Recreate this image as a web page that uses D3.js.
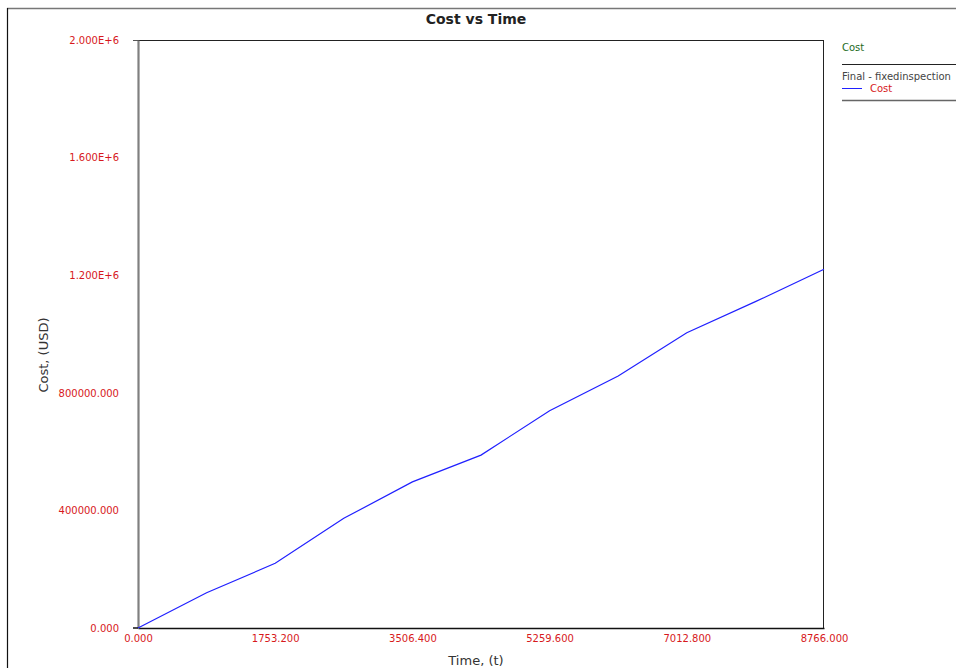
<!DOCTYPE html>
<html><head><meta charset="utf-8">
<script src="https://cdn.jsdelivr.net/npm/d3@7"></script>
<style>body{margin:0;background:#fff}svg{display:block}</style>
</head><body>
<script>
const timeValues = [0, 876.6, 1753.2, 2629.8, 3506.4, 4383, 5259.6, 6136.2, 7012.8, 7889.4, 8766];
const costValues = [0, 120000, 220000, 373000, 497000, 588000, 739000, 857000, 1004000, 1110000, 1220000];
const xTicks = [0, 1753.2, 3506.4, 5259.6, 7012.8, 8766];
const yTicks = [0, 400000, 800000, 1200000, 1600000, 2000000];
const yTickLabels = ["0.000", "400000.000", "800000.000", "1.200E+6", "1.600E+6", "2.000E+6"];
const xTickLabels = ["0.000", "1753.200", "3506.400", "5259.600", "7012.800", "8766.000"];

const W = 956, H = 668;
const L = 138, R = 824, T = 40, B = 628;
const red = "#d7191c", font = "DejaVu Sans";

const svg = d3.select("body").append("svg").attr("width", W).attr("height", H);

// outer frame
svg.append("line").attr("x1", 7).attr("x2", W).attr("y1", 8.5).attr("y2", 8.5).attr("stroke", "#777").attr("stroke-width", 1.5);
svg.append("line").attr("x1", 7.5).attr("x2", 7.5).attr("y1", 8).attr("y2", H).attr("stroke", "#111").attr("stroke-width", 1.2);

const x = d3.scaleLinear().domain([0, 8766]).range([L, R]);
const y = d3.scaleLinear().domain([0, 2000000]).range([B, T]);

// plot box
svg.append("line").attr("x1", L).attr("x2", R).attr("y1", T + 0.5).attr("y2", T + 0.5).attr("stroke", "#222");
svg.append("line").attr("x1", R - 0.5).attr("x2", R - 0.5).attr("y1", T).attr("y2", B).attr("stroke", "#222");

// x axis
const xAxis = svg.append("g").attr("transform", `translate(0,${B})`)
  .call(d3.axisBottom(x).tickValues(xTicks).tickSize(0).tickPadding(7)
    .tickFormat((d, i) => xTickLabels[i]));
xAxis.select(".domain").attr("stroke", "#111").attr("stroke-width", 1.5);
xAxis.selectAll("text").attr("fill", red).attr("font-family", font).attr("font-size", 10);

// y axis
const yAxis = svg.append("g").attr("transform", `translate(${L},0)`)
  .call(d3.axisLeft(y).tickValues(yTicks).tickSize(0).tickPadding(19)
    .tickFormat((d, i) => yTickLabels[i]));
yAxis.select(".domain").attr("stroke", "#808080").attr("stroke-width", 2.2);
yAxis.selectAll("text").attr("fill", red).attr("font-family", font).attr("font-size", 10);
// small stubs at top and bottom of y axis
svg.append("line").attr("x1", L - 5).attr("x2", L).attr("y1", y(2000000) + 0.5).attr("y2", y(2000000) + 0.5).attr("stroke", "#555");
svg.append("line").attr("x1", L - 5).attr("x2", L).attr("y1", y(0)).attr("y2", y(0)).attr("stroke", "#111").attr("stroke-width", 1.5);

// line
const data = timeValues.map((t, i) => [t, costValues[i]]);
svg.append("path").datum(data)
  .attr("d", d3.line().x(d => x(d[0])).y(d => y(d[1])))
  .attr("fill", "none").attr("stroke", "#2020ff").attr("stroke-width", 1.2);

// titles
svg.append("text").attr("x", 476).attr("y", 24).attr("text-anchor", "middle")
  .attr("font-family", font).attr("font-weight", "bold").attr("font-size", 14).attr("fill", "#222").text("Cost vs Time");
svg.append("text").attr("x", 476).attr("y", 665).attr("text-anchor", "middle")
  .attr("font-family", font).attr("font-size", 13).attr("fill", "#333").text("Time, (t)");
svg.append("text").attr("transform", "translate(48,355) rotate(-90)").attr("text-anchor", "middle")
  .attr("font-family", font).attr("font-size", 13).attr("fill", "#333").text("Cost, (USD)");

// legend
const lg = svg.append("g");
lg.append("text").attr("x", 842).attr("y", 51).attr("font-family", font).attr("font-size", 10).attr("fill", "#1e6b1e").text("Cost");
lg.append("line").attr("x1", 842).attr("x2", W).attr("y1", 64.5).attr("y2", 64.5).attr("stroke", "#222");
lg.append("text").attr("x", 842).attr("y", 80).attr("font-family", font).attr("font-size", 10).attr("fill", "#444").text("Final - fixedinspection");
lg.append("line").attr("x1", 842).attr("x2", 862).attr("y1", 88.5).attr("y2", 88.5).attr("stroke", "#2020ff");
lg.append("text").attr("x", 870).attr("y", 92).attr("font-family", font).attr("font-size", 10).attr("fill", red).text("Cost");
lg.append("line").attr("x1", 842).attr("x2", W).attr("y1", 100.5).attr("y2", 100.5).attr("stroke", "#666").attr("stroke-width", 1.5);
</script>
</body></html>
